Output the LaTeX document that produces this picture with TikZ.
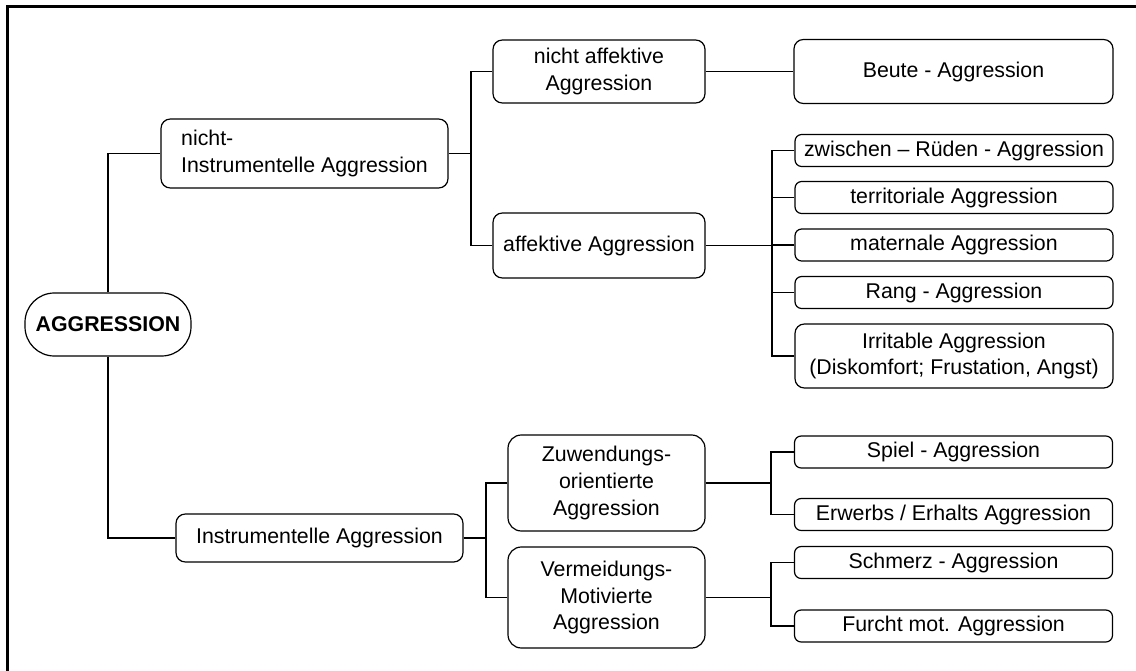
\documentclass[tikz,border=0pt]{standalone}
\usepackage{fontspec}
\setmainfont{Liberation Sans}
\usepackage{xcolor}
\usepackage{tikz}

\begin{document}
\begin{tikzpicture}[x=0.75pt,y=-0.75pt,
  box/.style={draw, line width=0.9pt, rounded corners=7pt, inner sep=0pt, align=center, font=\fontsize{16pt}{20pt}\selectfont},
  leafbox/.style={box, rounded corners=5pt, minimum width=238.5pt, minimum height=24pt},
  link/.style={line width=1.1pt}]
\useasboundingbox (0,0) rectangle (1136,671);
\draw[line width=1.6pt] (1136,6.5) -- (7.5,6.5) -- (7.5,671);

\node[box, rounded corners=22pt, minimum width=124.5pt, minimum height=47.25pt, font=\fontsize{16pt}{20pt}\selectfont\bfseries] (agg) at (108,324.5) {AGGRESSION};
\node[box, align=left, minimum width=215.25pt, minimum height=51.75pt] (nonins) at (304.5,153.5) {nicht-\\Instrumentelle Aggression};
\node[box, minimum width=159pt, minimum height=47.25pt] (nonaff) at (599,71.5) {nicht affektive\\Aggression};
\node[box, minimum width=239.25pt, minimum height=48pt] (prey) at (953.5,71.5) {Beute - Aggression};
\node[box, minimum width=159pt, minimum height=48.75pt] (aff) at (599,245.5) {affektive Aggression};
\node[leafbox] (male) at (954,150.5) {zwischen – Rüden - Aggression};
\node[leafbox] (terr) at (954,197.5) {territoriale Aggression};
\node[leafbox] (mat) at (954,245) {maternale Aggression};
\node[leafbox] (rank) at (954,292.5) {Rang - Aggression};
\node[leafbox, rounded corners=7pt, minimum height=48pt] (irr) at (954,356) {Irritable Aggression\\(Diskomfort; Frustation, Angst)};

\node[box, minimum width=215.25pt, minimum height=36pt] (ins) at (319.5,538) {Instrumentelle Aggression};
\node[box, rounded corners=10pt, minimum width=147.75pt, minimum height=72pt] (att) at (606.5,483) {Zuwendungs-\\orientierte\\Aggression};
\node[box, rounded corners=10pt, minimum width=147.75pt, minimum height=75.75pt] (avo) at (606.5,597.5) {Vermeidungs-\\Motivierte\\Aggression};
\node[leafbox] (play) at (953.5,452) {Spiel - Aggression};
\node[leafbox] (gain) at (953.5,514.5) {Erwerbs / Erhalts Aggression};
\node[leafbox] (pain) at (953.5,562.5) {Schmerz - Aggression};
\node[leafbox] (fear) at (953.5,626) {Furcht mot. Aggression};

\coordinate (j1) at (471,153.5);
\coordinate (j2) at (772,245.5);
\coordinate (j3) at (486,538);
\coordinate (j4) at (771,483);
\coordinate (j5) at (771,597.5);

\draw[link] (agg.north) |- (nonins.west);
\draw[link] (agg.south) |- (ins.west);
\draw[link] (nonins.east) -- (j1);
\draw[link] (nonaff.west) -| (j1);
\draw[link] (aff.west) -| (j1);
\draw[link] (nonaff.east) -- (prey.west);
\draw[link] (aff.east) -- (j2);
\foreach \n in {male,terr,mat,rank,irr} \draw[link] (\n.west) -| (j2);
\draw[link] (ins.east) -- (j3);
\foreach \n in {att,avo} \draw[link] (\n.west) -| (j3);
\draw[link] (att.east) -- (j4);
\foreach \n in {play,gain} \draw[link] (\n.west) -| (j4);
\draw[link] (avo.east) -- (j5);
\foreach \n in {pain,fear} \draw[link] (\n.west) -| (j5);
\end{tikzpicture}
\end{document}
